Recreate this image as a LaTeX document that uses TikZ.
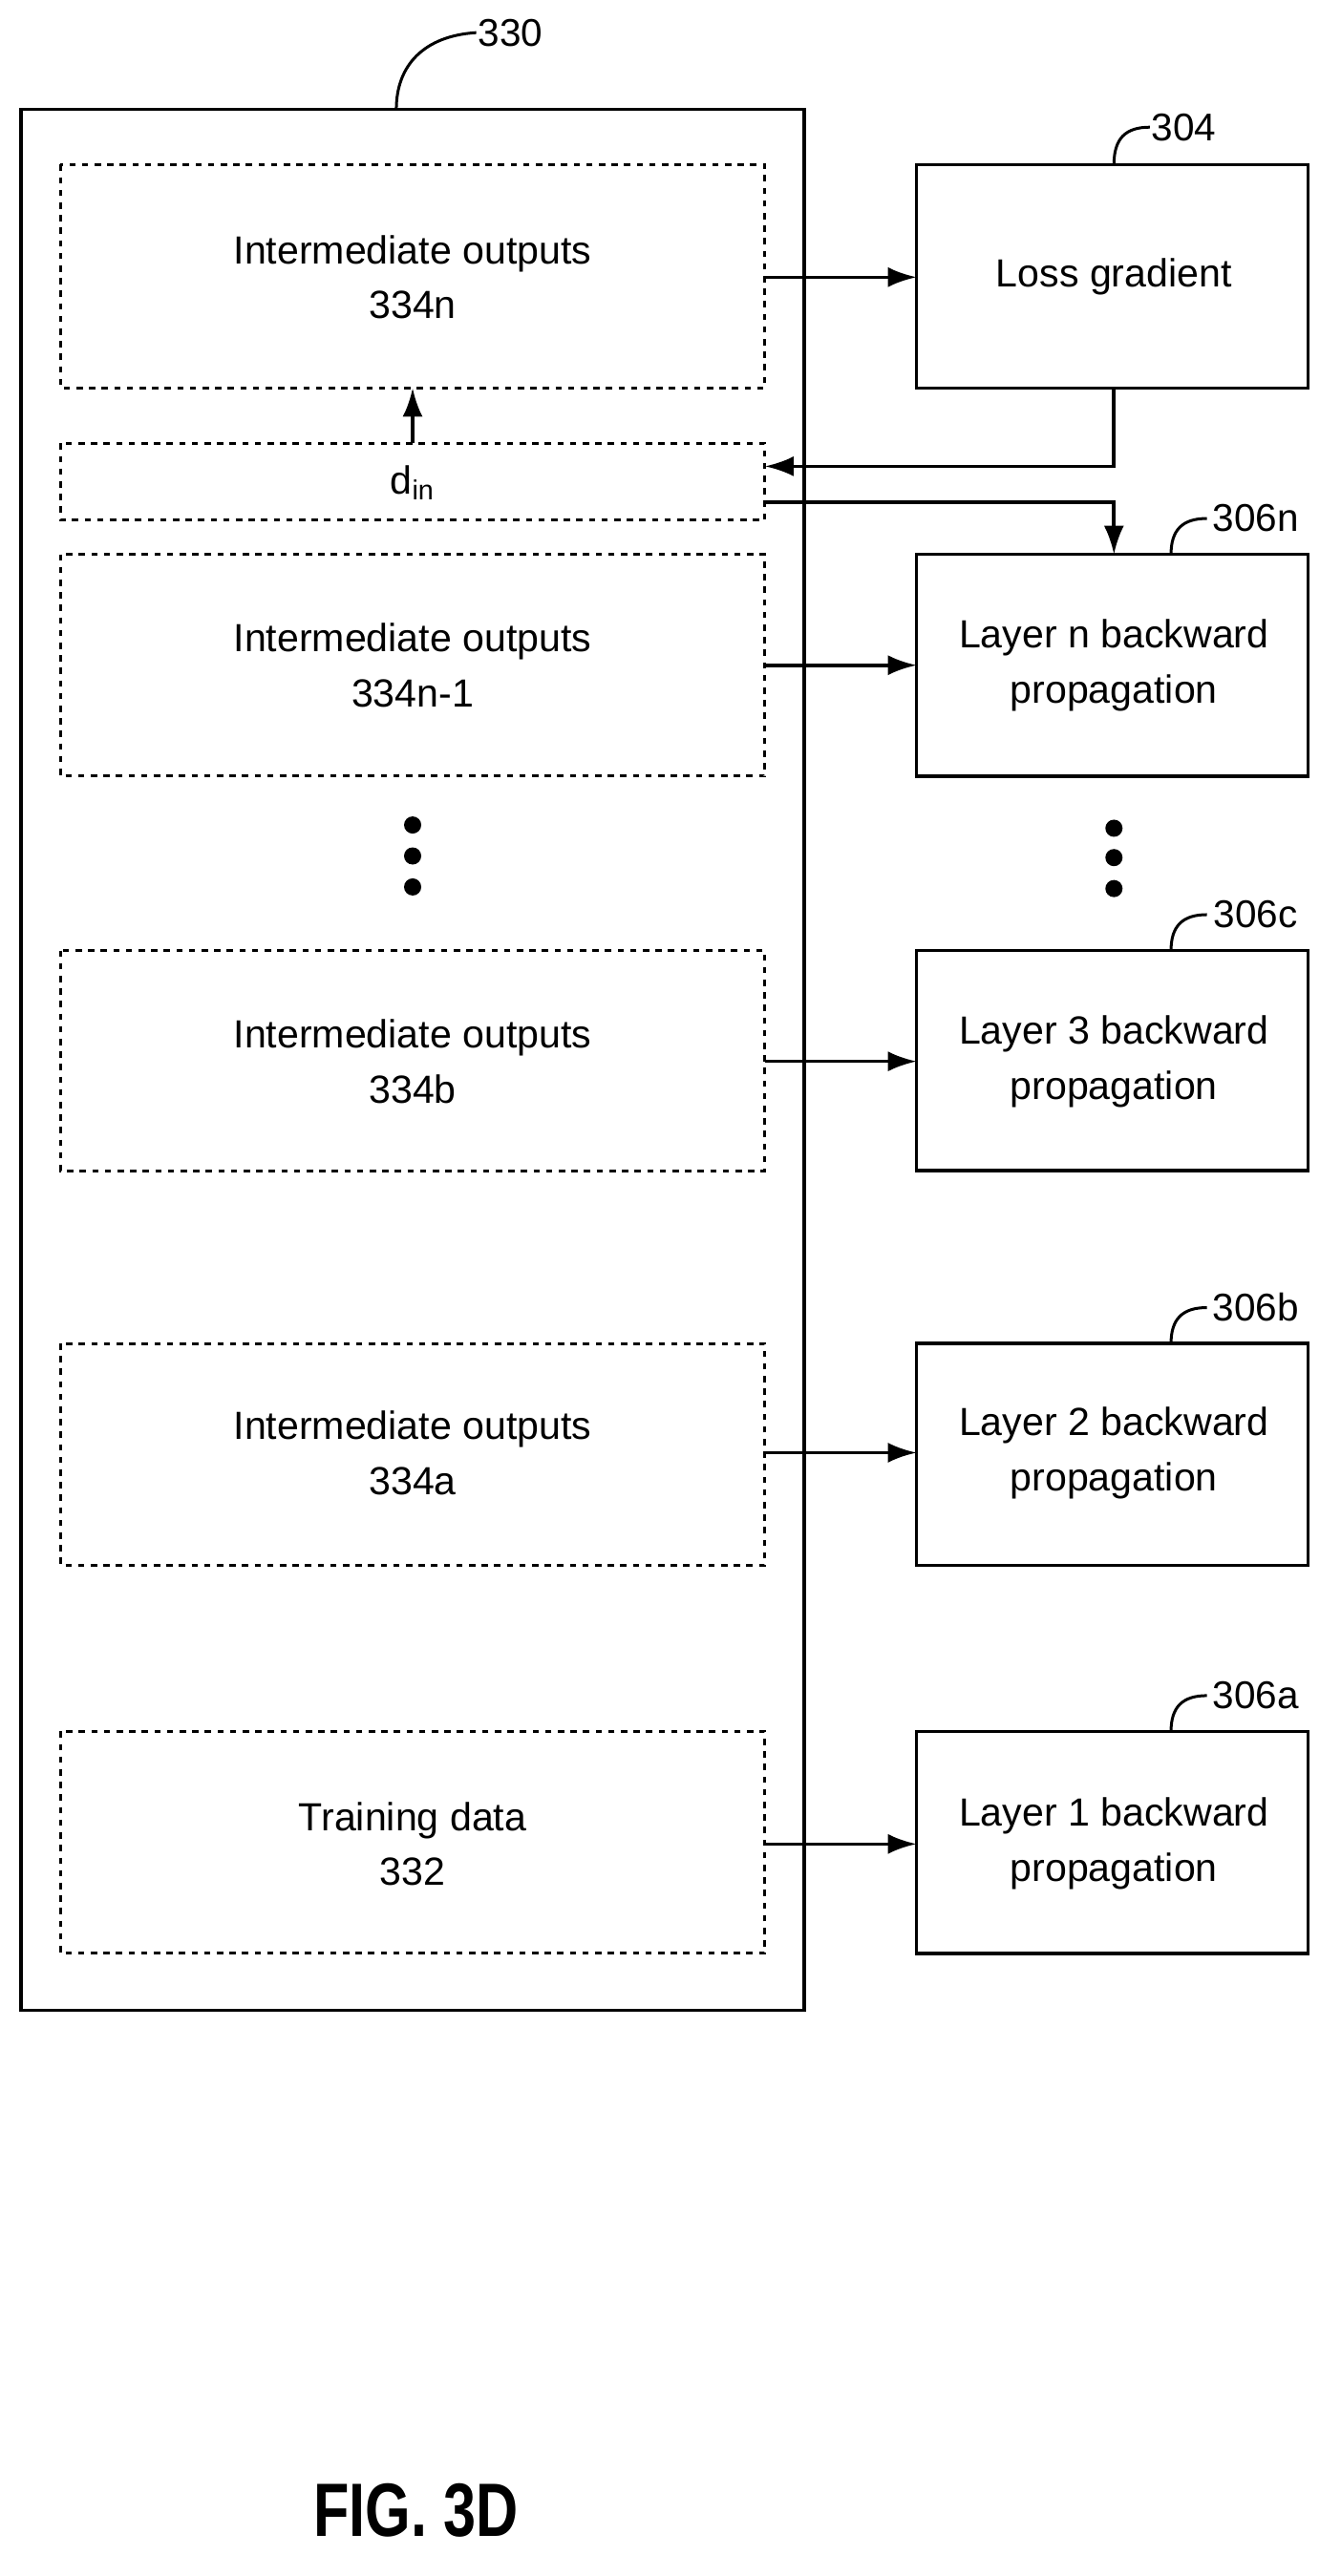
\documentclass[tikz,border=0pt]{standalone}
\usepackage{fontspec}
\setmainfont{Liberation Sans}
\usetikzlibrary{arrows.meta}
\begin{document}
\begin{tikzpicture}[x=0.02cm,y=-0.02cm,
  line width=1.2pt,
  dbox/.style={draw,dash pattern=on 2.2pt off 2.2pt,line width=1pt},
  txt/.style={align=center,font=\fontsize{13.7}{19.3}\selectfont},
  lab/.style={font=\fontsize{13.5}{15}\selectfont},
  arr/.style={-{Latex[length=10pt,width=7pt]}},
  dot/.style={circle,fill,inner sep=0pt,minimum size=6pt}]
\useasboundingbox (0,0) rectangle (822,1580);
% outer
\draw (13,67) rectangle (493,1233);
\node[lab] (l330) at (313,20) {330};
\draw[line width=1pt] (243,67) .. controls (243,40) and (260,22) .. (292,20);
% dashed boxes
\draw[dbox] (37,101) rectangle (469,238); \node[txt] (o334n) at (253,170) {Intermediate outputs\\334n};
\draw[dbox] (37,272) rectangle (469,319); \node[txt] (din) at (253,296) {d\textsubscript{in}};
\draw[dbox] (37,340) rectangle (469,476); \node[txt] (o334n1) at (253,408) {Intermediate outputs\\334n-1};
\draw[dbox] (37,583) rectangle (469,718); \node[txt] (o334b) at (253,651) {Intermediate outputs\\334b};
\draw[dbox] (37,824) rectangle (469,960); \node[txt] (o334a) at (253,891) {Intermediate outputs\\334a};
\draw[dbox] (37,1062) rectangle (469,1198); \node[txt] (o332) at (253,1131) {Training data\\332};
\node[dot] (d1) at (253,506) {}; \node[dot] (d2) at (253,525) {}; \node[dot] (d3) at (253,544) {};
% right boxes
\draw (562,101) rectangle (802,238); \node[txt] (loss) at (683,170) {Loss gradient};
\draw (562,340) rectangle (802,476); \node[txt] (ln) at (683,408) {Layer n backward\\propagation};
\draw (562,583) rectangle (802,718); \node[txt] (l3) at (683,651) {Layer 3 backward\\propagation};
\draw (562,824) rectangle (802,960); \node[txt] (l2) at (683,891) {Layer 2 backward\\propagation};
\draw (562,1062) rectangle (802,1198); \node[txt] (l1) at (683,1131) {Layer 1 backward\\propagation};
\node[dot] (e1) at (683,508) {}; \node[dot] (e2) at (683,526) {}; \node[dot] (e3) at (683,545) {};
% labels
\node[lab] (l304) at (726,78) {304};
\draw[line width=1pt] (683,101) .. controls (683,85) and (690,78) .. (705,78);
\node[lab] (l306n) at (770,318) {306n};
\draw[line width=1pt] (718,340) .. controls (718,325) and (725,318) .. (740,318);
\node[lab] (l306c) at (770,561) {306c};
\draw[line width=1pt] (718,583) .. controls (718,568) and (725,561) .. (740,561);
\node[lab] (l306b) at (770,802) {306b};
\draw[line width=1pt] (718,824) .. controls (718,809) and (725,802) .. (740,802);
\node[lab] (l306a) at (770,1040) {306a};
\draw[line width=1pt] (718,1062) .. controls (718,1047) and (725,1040) .. (740,1040);
% arrows
\draw[arr] (469,170) -- (562,170);
\draw[arr] (469,408) -- (562,408);
\draw[arr] (469,651) -- (562,651);
\draw[arr] (469,891) -- (562,891);
\draw[arr] (469,1131) -- (562,1131);
\draw[arr] (253,272) -- (253,238);
\draw[arr] (683,238) -- (683,286) -- (469,286);
\draw[arr] (469,308) -- (683,308) -- (683,340);
\node[font=\bfseries\fontsize{24}{28}\selectfont, xscale=0.85, yscale=1.1] (fig) at (255,1540) {FIG. 3D};
\end{tikzpicture}
\end{document}
